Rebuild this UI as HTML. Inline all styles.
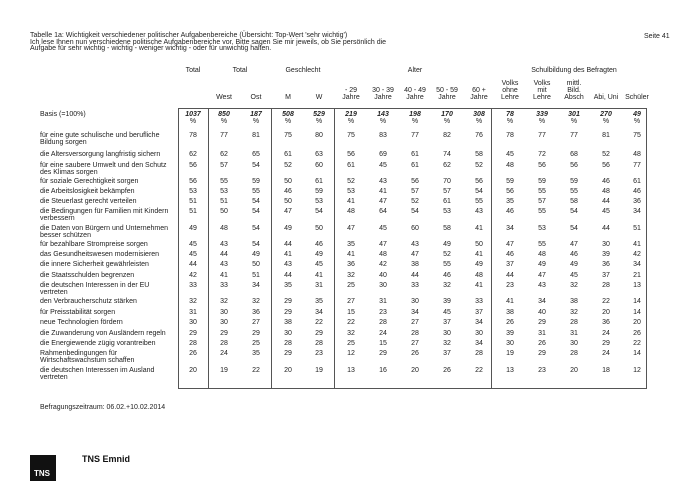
<!DOCTYPE html>
<html><head><meta charset="utf-8"><style>
body{margin:0;width:700px;height:495px;background:#fff;position:relative;font-family:"Liberation Sans",Arial,sans-serif;color:#222;overflow:hidden}
.t{position:absolute;font-size:7px;line-height:7px;white-space:nowrap}
.c{position:absolute;font-size:7px;line-height:7px;text-align:center;width:40px;margin-left:-20px}
.g{position:absolute;font-size:7px;line-height:7px;text-align:center;width:160px;margin-left:-80px;white-space:nowrap}
.l{position:absolute;font-size:7px;line-height:7px;left:40px;white-space:nowrap}
.v{position:absolute;background:#555}
</style></head><body>
<div class="t" style="left:30px;top:33px;line-height:6.6px">Tabelle 1a: Wichtigkeit verschiedener politischer Aufgabenbereiche (Übersicht: Top-Wert 'sehr wichtig')<br>Ich lese Ihnen nun verschiedene politische Aufgabenbereiche vor. Bitte sagen Sie mir jeweils, ob Sie persönlich die<br>Aufgabe für sehr wichtig - wichtig - weniger wichtig - oder für unwichtig halten.</div>
<div class="t" style="left:644px;top:33px">Seite 41</div>
<div class="v" style="left:178px;top:108px;width:1px;height:281px"></div>
<div class="v" style="left:208px;top:108px;width:1px;height:281px"></div>
<div class="v" style="left:271px;top:108px;width:1px;height:281px"></div>
<div class="v" style="left:334px;top:108px;width:1px;height:281px"></div>
<div class="v" style="left:491px;top:108px;width:1px;height:281px"></div>
<div class="v" style="left:646px;top:108px;width:1px;height:281px"></div>
<div class="v" style="left:178px;top:108px;width:469px;height:1px"></div>
<div class="v" style="left:178px;top:388px;width:469px;height:1px"></div>
<div id="h"></div>
<div class="l" style="top:404px">Befragungszeitraum: 06.02.+10.02.2014</div>
<div style="position:absolute;left:30px;top:455px;width:26px;height:26px;background:#111"></div>
<div class="t" style="left:34px;top:470px;color:#fff;font-size:8px;font-weight:bold">TNS</div>
<div class="t" style="left:82px;top:455px;font-size:9px;font-weight:bold;line-height:9px;color:#111">TNS Emnid</div>
<script>
var X=[193,224,256,288,319,351,383,415,447,479,510,542,574,606,637];
var out='';
function c(x,y,s,st){out+='<div class="c" style="left:'+x+'px;top:'+(y-3.5)+'px;'+(st||'')+'">'+s+'</div>';}
function g(x,y,s){out+='<div class="g" style="left:'+x+'px;top:'+(y-3.5)+'px">'+s+'</div>';}
g(193,70,'Total');g(240,70,'Total');g(303,70,'Geschlecht');g(415,70,'Alter');g(574,70,'Schulbildung des Befragten');
var H=['','West','Ost','M','W','- 29<br>Jahre','30 - 39<br>Jahre','40 - 49<br>Jahre','50 - 59<br>Jahre','60 +<br>Jahre','Volks<br>ohne<br>Lehre','Volks<br>mit<br>Lehre','mittl.<br>Bild.<br>Absch','Abi, Uni','Schüler'];
H.forEach(function(h,i){if(!h)return;var n=h.split('<br>').length;c(X[i],97-7*(n-1),h);});
var B=[1037,850,187,508,529,219,143,198,170,308,78,339,301,270,49];
out+='<div class="l" style="top:111px">Basis (=100%)</div>';
B.forEach(function(b,i){c(X[i],114,'<b><i>'+b+'</i></b><br>%');});
var R=[[135,'für eine gute schulische und berufliche<br>Bildung sorgen','78 77 81 75 80 75 83 77 82 76 78 77 77 81 75'],
[154,'die Altersversorgung langfristig sichern','62 62 65 61 63 56 69 61 74 58 45 72 68 52 48'],
[165,'für eine saubere Umwelt und den Schutz<br>des Klimas sorgen','56 57 54 52 60 61 45 61 62 52 48 56 56 56 77'],
[181,'für soziale Gerechtigkeit sorgen','56 55 59 50 61 52 43 56 70 56 59 59 59 46 61'],
[191,'die Arbeitslosigkeit bekämpfen','53 53 55 46 59 53 41 57 57 54 56 55 55 48 46'],
[201,'die Steuerlast gerecht verteilen','51 51 54 50 53 41 47 52 61 55 35 57 58 44 36'],
[211,'die Bedingungen für Familien mit Kindern<br>verbessern','51 50 54 47 54 48 64 54 53 43 46 55 54 45 34'],
[228,'die Daten von Bürgern und Unternehmen<br>besser schützen','49 48 54 49 50 47 45 60 58 41 34 53 54 44 51'],
[244,'für bezahlbare Strompreise sorgen','45 43 54 44 46 35 47 43 49 50 47 55 47 30 41'],
[254,'das Gesundheitswesen modernisieren','45 44 49 41 49 41 48 47 52 41 46 48 46 39 42'],
[264,'die innere Sicherheit gewährleisten','44 43 50 43 45 36 42 38 55 49 37 49 49 36 34'],
[275,'die Staatsschulden begrenzen','42 41 51 44 41 32 40 44 46 48 44 47 45 37 21'],
[285,'die deutschen Interessen in der EU<br>vertreten','33 33 34 35 31 25 30 33 32 41 23 43 32 28 13'],
[301,'den Verbraucherschutz stärken','32 32 32 29 35 27 31 30 39 33 41 34 38 22 14'],
[312,'für Preisstabilität sorgen','31 30 36 29 34 15 23 34 45 37 38 40 32 20 14'],
[322,'neue Technologien fördern','30 30 27 38 22 22 28 27 37 34 26 29 28 36 20'],
[333,'die Zuwanderung von Ausländern regeln','29 29 29 30 29 32 24 28 30 30 39 31 31 24 26'],
[343,'die Energiewende zügig vorantreiben','28 28 25 28 28 25 15 27 32 34 30 26 30 29 22'],
[353,'Rahmenbedingungen für<br>Wirtschaftswachstum schaffen','26 24 35 29 23 12 29 26 37 28 19 29 28 24 14'],
[370,'die deutschen Interessen im Ausland<br>vertreten','20 19 22 20 19 13 16 20 26 22 13 23 20 18 12']];
R.forEach(function(r){out+='<div class="l" style="top:'+(r[0]-3.5)+'px">'+r[1]+'</div>';r[2].split(' ').forEach(function(v,i){c(X[i],r[0],v);});});
document.getElementById('h').innerHTML=out;
</script>
</body></html>
